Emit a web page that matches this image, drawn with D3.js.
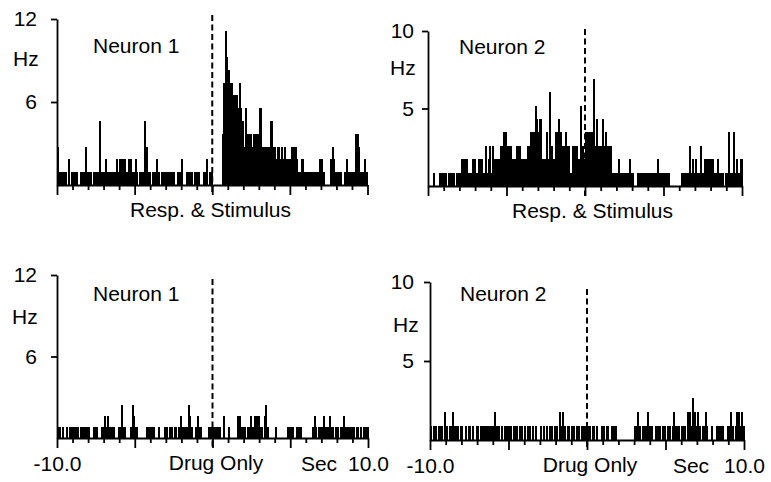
<!DOCTYPE html>
<html>
<head>
<meta charset="utf-8">
<script src="https://cdn.jsdelivr.net/npm/d3@7"></script>
<style>
  body { margin: 0; background: #fff; }
  svg text { font-family: "Liberation Sans", Arial, sans-serif; font-size: 21px; fill: #000; }
</style>
</head>
<body>
<svg id="chart" width="771" height="482"></svg>
<script>
// PSTH bins: 0.1 s each from -10 to +10 s (200 bins), spike counts per bin
const binSec = 0.1;
const timeDomain = [-10, 10];

const n1Stim = [
  3,1,1,1,1,1,0,2,0,1, 1,1,1,0,0,1,1,1,3,1,
  1,1,0,1,1,1,1,5,1,1, 1,2,1,1,1,1,1,1,2,1,
  2,2,2,2,1,1,2,2,1,1, 2,1,0,1,1,1,5,3,1,1,
  0,1,1,1,2,1,0,1,1,1, 1,1,1,1,1,1,0,1,1,1,
  2,0,0,1,1,1,1,0,1,1, 1,1,0,0,1,1,2,0,1,1,
  0,0,0,0,0,0,4,8,12,10, 9,8,8,7,7,7,6,8,6,5,
  3,6,4,4,4,3,4,4,4,4, 6,6,3,3,3,3,3,5,5,3,
  3,2,3,2,3,2,3,2,2,2, 2,3,3,3,2,1,1,2,2,1,
  1,1,1,1,1,1,1,1,1,2, 2,1,0,0,0,0,2,3,2,1,
  1,1,1,0,0,1,2,1,1,1, 1,1,4,4,3,1,1,1,2,1
];

const n2Stim = [
  0,0,0,1,0,0,0,1,1,1, 1,1,0,1,1,1,1,0,1,1,
  1,2,2,2,2,1,1,1,2,2, 1,1,2,2,2,1,3,1,2,3,
  1,3,2,2,2,2,3,3,4,4, 3,3,3,2,2,2,3,3,3,2,
  2,2,2,3,3,4,4,4,6,5, 4,5,2,2,2,4,2,7,3,2,
  2,4,4,5,4,3,3,4,3,3, 1,1,3,3,3,2,2,6,3,2,
  4,4,4,4,4,8,3,5,3,3, 3,5,3,4,3,3,3,1,1,1,
  1,2,1,1,1,1,1,1,2,1, 1,0,0,1,1,1,1,1,1,1,
  1,1,1,1,1,1,2,1,1,1, 1,1,1,1,0,0,0,0,0,0,
  0,1,1,1,1,1,3,1,2,1, 2,1,1,3,1,1,2,2,2,2,
  2,2,1,1,2,1,1,1,0,1, 1,4,1,1,4,1,2,1,1,2
];

const n1Drug = [
  1,1,0,1,0,0,1,0,1,1, 1,1,1,1,0,1,1,1,1,1,
  1,0,0,1,1,1,0,0,1,1, 2,1,2,1,1,1,1,0,0,1,
  1,3,1,1,0,0,0,1,3,2, 1,1,0,0,0,0,0,1,1,1,
  1,1,1,0,0,1,0,0,0,1, 1,0,1,1,0,1,1,0,1,2,
  1,1,1,1,3,2,1,0,0,1, 2,1,1,0,0,0,0,1,1,1,
  1,1,1,1,1,0,0,2,0,0, 1,0,0,0,0,0,2,2,1,1,
  1,0,1,1,2,1,1,2,2,2, 1,1,0,2,3,1,0,0,0,0,
  1,0,0,0,0,0,0,0,1,1, 1,1,0,0,1,1,1,0,0,0,
  0,0,0,0,1,2,1,0,1,1, 1,2,1,1,1,2,1,1,0,1,
  1,0,1,1,2,1,1,1,1,1, 1,0,1,1,0,1,0,1,1,1
];

const n2Drug = [
  1,0,1,1,0,1,1,1,0,2, 1,0,1,1,2,1,1,1,0,1,
  1,0,1,0,1,1,0,1,0,1, 1,0,1,1,1,1,1,1,1,1,
  1,2,1,1,0,1,0,1,1,1, 1,1,0,1,1,1,0,1,1,0,
  1,0,1,1,0,1,0,1,0,0, 1,0,1,0,1,0,1,1,0,1,
  1,0,2,1,2,1,0,1,1,0, 1,1,0,1,1,0,1,1,1,1,
  1,1,0,1,1,0,1,0,0,1, 1,0,1,1,0,1,1,1,1,0,
  0,0,0,0,0,0,0,0,0,0, 1,1,2,1,0,1,1,1,2,1,
  1,1,0,1,1,1,1,0,1,1, 0,1,1,0,1,2,1,1,1,0,
  1,1,1,0,2,2,1,3,2,1, 2,1,0,1,1,2,1,0,0,1,
  0,0,1,1,1,1,1,0,0,1, 1,2,1,0,1,2,2,1,2,1
];

// Hz represented by one spike in a bin, per panel
const hzPerSpike = [0.925, 0.865, 0.81, 0.886];
const yTicksN1 = [6, 12];
const yTicksN2 = [5, 10];
const neuronNames = ["Neuron 1", "Neuron 2", "Neuron 1", "Neuron 2"];
const conditions = ["Resp. & Stimulus", "Resp. & Stimulus", "Drug Only", "Drug Only"];

const svg = d3.select("#chart");

const panels = [
  { data: n1Stim, ticks: yTicksN1, x0: 57, x1: 367.5, y0: 185, yTop: 19, pad: 14, dashTop: 15,
    hz: [13, 66], name: [93, 53], caption: 210.5, bottom: false },
  { data: n2Stim, ticks: yTicksN2, x0: 428, x1: 742, y0: 186, yTop: 31, pad: 8, dashTop: 29,
    hz: [390, 75], name: [459, 54], caption: 592.5, bottom: false },
  { data: n1Drug, ticks: yTicksN1, x0: 57, x1: 368, y0: 438, yTop: 275, pad: 14, dashTop: 279,
    hz: [12, 324], name: [93, 301], caption: 216, sec: 319, bottom: true },
  { data: n2Drug, ticks: yTicksN2, x0: 430, x1: 744, y0: 440, yTop: 282, pad: 10, dashTop: 289,
    hz: [393, 332], name: [460, 301], caption: 590, sec: 691, bottom: true }
];

panels.forEach((p, k) => {
  const g = svg.append("g");
  const yMax = p.ticks[1];

  const x = d3.scaleLinear().domain(timeDomain).range([p.x0, p.x1]);
  const y = d3.scaleLinear().domain([0, yMax]).range([p.y0, p.yTop]);

  const bins = p.data.map((c, i) => ({ t: timeDomain[0] + i * binSec, hz: c * hzPerSpike[k] }));

  // histogram bars (slight overlap so neighbouring bins merge like the print)
  g.append("g").attr("shape-rendering", "crispEdges").selectAll("rect")
    .data(bins.filter(d => d.hz > 0))
    .enter().append("rect")
    .attr("x", d => x(d.t))
    .attr("width", d => x(d.t + binSec) - x(d.t) + 0.5)
    .attr("y", d => y(d.hz))
    .attr("height", d => y(0) - y(d.hz))
    .attr("fill", "#000");

  // y axis
  const yAxis = g.append("g")
    .attr("transform", `translate(${p.x0},0)`)
    .call(d3.axisLeft(y).tickValues(p.ticks).tickSize(6).tickSizeOuter(0).tickPadding(p.pad));

  // x axis: 1 s ticks, longer every 5 s
  const xAxis = g.append("g")
    .attr("transform", `translate(0,${p.y0})`)
    .call(d3.axisBottom(x).tickValues(d3.range(-10, 11)).tickSize(5).tickSizeOuter(0).tickPadding(13)
      .tickFormat(d => !p.bottom ? "" : d === -10 ? "-10.0" : d === 10 ? "10.0" : ""));
  xAxis.selectAll(".tick line").filter(d => d % 5 === 0).attr("y2", 10);

  [yAxis, xAxis].forEach(a => {
    a.attr("font-family", null).attr("font-size", null);
    a.selectAll("path, line").attr("stroke", "#000").attr("stroke-width", 1.8);
  });

  // stimulus / drug onset marker
  g.append("line")
    .attr("x1", x(0)).attr("x2", x(0))
    .attr("y1", p.dashTop).attr("y2", p.y0 + 10)
    .attr("stroke", "#000").attr("stroke-width", 2)
    .attr("stroke-dasharray", "6,3.5");

  g.append("text").attr("x", p.hz[0]).attr("y", p.hz[1]).text("Hz");
  g.append("text").attr("x", p.name[0]).attr("y", p.name[1]).text(neuronNames[k]);
  g.append("text").attr("x", p.caption).attr("y", p.y0 + 32)
    .attr("text-anchor", "middle").text(conditions[k]);
  if (p.bottom) {
    g.append("text").attr("x", p.sec).attr("y", p.y0 + 33)
      .attr("text-anchor", "middle").text("Sec");
  }
});
</script>
</body>
</html>
